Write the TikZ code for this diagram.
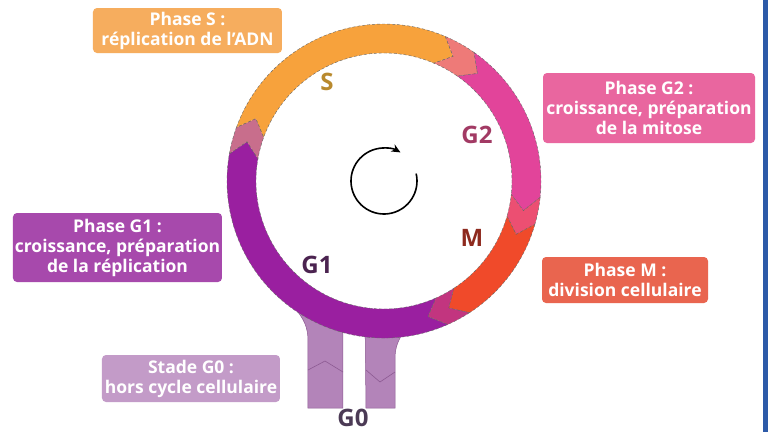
\documentclass[tikz,border=0pt]{standalone}
\usepackage{fontspec}
\setmainfont{Open Sans}
\usetikzlibrary{arrows.meta}

\definecolor{purpleG1}{HTML}{9A1FA0}
\definecolor{orangeS}{HTML}{F7A23C}
\definecolor{pinkG2}{HTML}{E2449A}
\definecolor{redM}{HTML}{F04A2A}
\definecolor{transGS}{HTML}{C86E8C}
\definecolor{transSG}{HTML}{EE7A78}
\definecolor{transGM}{HTML}{EC4F72}
\definecolor{transMG}{HTML}{C2357F}
\definecolor{lilac}{HTML}{B384B9}
\definecolor{lilacdark}{HTML}{8C5A92}
\definecolor{boxS}{HTML}{F6AD5E}
\definecolor{boxG2}{HTML}{E9669F}
\definecolor{boxG1}{HTML}{A749AC}
\definecolor{boxM}{HTML}{E9654F}
\definecolor{boxG0}{HTML}{C39BC8}
\definecolor{txtS}{HTML}{B98A2E}
\definecolor{txtG2}{HTML}{A23A64}
\definecolor{txtM}{HTML}{8E2A1E}
\definecolor{txtG1}{HTML}{4B2350}
\definecolor{txtG0}{HTML}{4B3A55}
\definecolor{edgeblue}{HTML}{2D5AA8}

\begin{document}
\begin{tikzpicture}[x=1pt, y=1pt,
    box/.style={rectangle, rounded corners=4pt, inner sep=0pt, align=center, text=white, font=\fontsize{17.5}{20}\selectfont\bfseries},
    lbl/.style={inner sep=1pt, font=\fontsize{24}{24}\selectfont\bfseries},
    seg/.style={draw=black!60, densely dashed, line width=0.4pt},
    leg/.style={fill=lilac, draw=lilacdark, line width=0.5pt}
]
\useasboundingbox (-384,-251) rectangle (384,181);
\fill[white] (-384,-251) rectangle (384,181);
\fill[edgeblue] (379,-251) rectangle (384,181);

% G0 legs
\filldraw[leg] (-100,-115) -- (-90,-126) .. controls (-80,-138) and (-76,-146) .. (-76,-160) -- (-76,-227) -- (-41,-227) -- (-41,-135) -- cycle;
\filldraw[leg] (-19,-135) -- (-18,-227) -- (11,-227) -- (11,-178) .. controls (11,-166) and (14,-160) .. (20,-150) -- (30,-138) -- cycle;
\draw[lilacdark, line width=0.6pt] (-76,-189) -- (-59,-180) -- (-41,-191);
\draw[lilacdark, line width=0.6pt] (-18,-189) -- (-4,-201) -- (11,-191);

% Ring
\foreach \a/\b/\c in {294/170/purpleG1, 170/160/transGS, 160/67/orangeS, 67/55/transSG, 55/-6/pinkG2, -6/-16/transGM, -16/-57/redM, -57/-66/transMG}
    \filldraw[seg, fill=\c] (\a:157) arc[start angle=\a, end angle=\b, radius=157] -- ({\b-6}:142.5) -- (\b:128) arc[start angle=\b, end angle=\a, radius=128] -- ({\a-6}:142.5) -- cycle;

% Cycle arrow
\draw[line width=1.6pt, -{Stealth[length=9pt, width=8pt]}] (13:33) arc[start angle=13, end angle=-300, radius=33];

% Ring labels
\node[lbl, text=txtS] (labS) at (-57,99) {S};
\node[lbl, text=txtG2] (labG2) at (93,46) {G2};
\node[lbl, text=txtM] (labM) at (88,-57) {M};
\node[lbl, text=txtG1] (labG1) at (-67,-84) {G1};
\node[lbl, text=txtG0] (labG0) at (-31,-237) {G0};

% Phase boxes
\node[box, fill=boxS, minimum width=189pt, minimum height=45pt] (phaseS) at (-196.5,150.5) {Phase S :\\réplication de l'ADN};
\node[box, fill=boxG2, minimum width=212pt, minimum height=70pt] (phaseG2) at (265,73) {Phase G2 :\\croissance, préparation\\de la mitose};
\node[box, fill=boxG1, minimum width=209pt, minimum height=69pt] (phaseG1) at (-266.5,-66.5) {Phase G1 :\\croissance, préparation\\de la réplication};
\node[box, fill=boxM, minimum width=166pt, minimum height=46pt] (phaseM) at (241,-99) {Phase M :\\division cellulaire};
\node[box, fill=boxG0, minimum width=178pt, minimum height=47pt] (stadeG0) at (-193,-197.5) {Stade G0 :\\hors cycle cellulaire};

\end{tikzpicture}
\end{document}
